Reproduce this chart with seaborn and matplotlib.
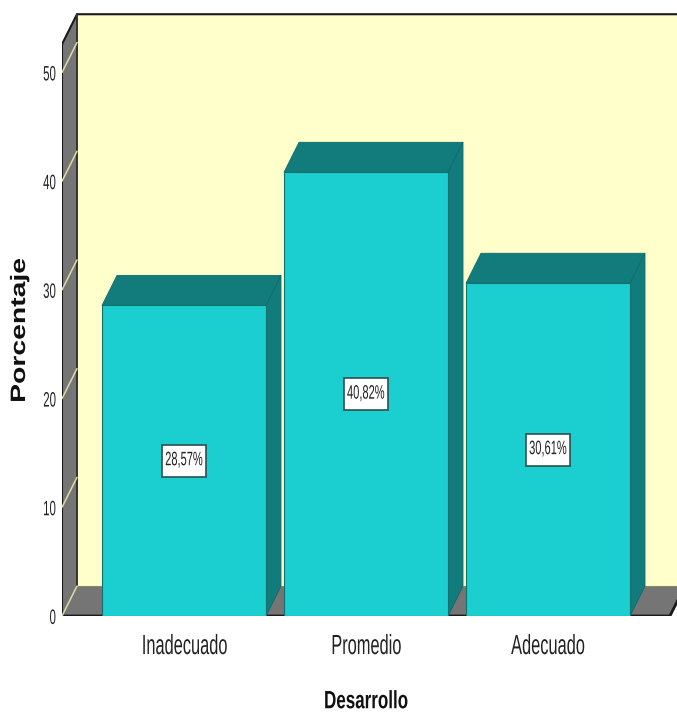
import matplotlib
matplotlib.use('Agg')
import matplotlib.pyplot as plt
from matplotlib.patches import Rectangle
from matplotlib.patheffects import AbstractPathEffect
from matplotlib.transforms import Affine2D
import pandas as pd
import seaborn as sns

categorias = ['Inadecuado', 'Promedio', 'Adecuado']
porcentajes = [28.57, 40.82, 30.61]
etiquetas = ['28,57%', '40,82%', '30,61%']
ticks_y = [0, 10, 20, 30, 40, 50]

TEAL = '#1BCECF'
TEAL_OSCURO = '#117C7B'
CREMA = '#FFFFCC'
GRIS = '#757575'
FUENTE = 'Liberation Sans'

# escala: 182 px por categoria, 10.87 px por unidad de porcentaje
PX_X = 182
PX_Y = 10.87
prof_x = 15 / PX_X
prof_y = 30 / PX_Y


# el original usa letra muy estrecha y alta: se estira el texto a lo ancho
class Estirar(AbstractPathEffect):
    def __init__(self, sx, ancla='centro', dx=0, dy=0):
        super().__init__((dx, dy))
        self.sx = sx
        self.ancla = ancla

    def draw_path(self, renderer, gc, tpath, affine, rgbFace=None):
        caja = tpath.get_extents()
        x0 = caja.x1 if self.ancla == 'derecha' else (caja.x0 + caja.x1) / 2
        t = Affine2D().translate(-x0, 0).scale(self.sx, 1).translate(x0, 0)
        renderer.draw_path(gc, tpath, t + self._offset_transform(renderer) + affine, rgbFace)


sns.set_style('white')

df = pd.DataFrame({'Desarrollo': categorias, 'Porcentaje': porcentajes})

fig = plt.figure(figsize=(6.77, 7.15), dpi=100)
ax = fig.add_axes([62 / 677, 99 / 715, 615 / 677, 616 / 715])
ax.patch.set_visible(False)

x_min = (62 - 184) / PX_X
x_max = (677 - 184) / PX_X
y_max = 616 / PX_Y
y_techo = 52.6
x_suelo = 2.67

# pared del fondo, pared izquierda y suelo
ax.fill([x_min + prof_x, x_max, x_max, x_min + prof_x],
        [prof_y, prof_y, y_techo + prof_y, y_techo + prof_y],
        color=CREMA, lw=0, zorder=0)
ax.fill([x_min, x_min + prof_x, x_min + prof_x, x_min],
        [0, prof_y, y_techo + prof_y, y_techo],
        color=GRIS, lw=0, zorder=0.5)
ax.fill([x_min, x_min + prof_x, x_suelo + prof_x, x_suelo],
        [0, prof_y, prof_y, 0],
        color=GRIS, lw=0, zorder=0.5)

ax.plot([x_min, x_min, x_min + prof_x, x_max],
        [0, y_techo, y_techo + prof_y, y_techo + prof_y],
        color='#1a1a1a', lw=1.5, zorder=1, solid_joinstyle='miter')
ax.plot([x_min + prof_x, x_min + prof_x], [prof_y, y_techo + prof_y],
        color='#333333', lw=1.4, zorder=1)
ax.plot([x_min + prof_x, x_max], [prof_y, prof_y], color='#8a8a60', lw=0.8, zorder=1)
ax.plot([x_min, x_suelo, x_suelo + prof_x], [0, 0, prof_y], color='#1a1a1a', lw=2, zorder=1)

for t in ticks_y:
    ax.plot([x_min, x_min + prof_x], [t, t + prof_y], color='#DCDCA8', lw=1.1, zorder=1.2)

sns.barplot(data=df, x='Desarrollo', y='Porcentaje', color=TEAL, saturation=1,
            width=164 / PX_X, edgecolor='#14706f', linewidth=0.8, zorder=3, ax=ax)

# caras superior y lateral de cada barra
for i, valor in enumerate(porcentajes):
    izq = i - 82 / PX_X
    der = i + 82 / PX_X
    ax.fill([izq, der, der + prof_x, izq + prof_x],
            [valor, valor, valor + prof_y, valor + prof_y],
            facecolor=TEAL_OSCURO, edgecolor='#0f6a6a', lw=0.6, zorder=2)
    ax.fill([der, der + prof_x, der + prof_x, der],
            [0, prof_y, valor + prof_y, valor],
            facecolor=TEAL_OSCURO, edgecolor='#0f6a6a', lw=0.6, zorder=2)
    ax.add_patch(Rectangle((i - 22 / PX_X, valor / 2 - 16 / PX_Y), 44 / PX_X, 32 / PX_Y,
                           facecolor='white', edgecolor='#2f4f4f', lw=1.2, zorder=4))
    ax.text(i, valor / 2, etiquetas[i], ha='center', va='center', fontsize=14,
            family=FUENTE, color='#222222', zorder=5, path_effects=[Estirar(0.57)])

ax.set_xlim(x_min, x_max)
ax.set_ylim(0, y_max)
ax.set_yticks(ticks_y)
ax.set_yticklabels([str(t) for t in ticks_y], family=FUENTE, fontsize=15, color='#222222')
for lab in ax.get_yticklabels():
    lab.set_path_effects([Estirar(0.55, 'derecha', dy=-1.5)])
ax.tick_params(axis='y', length=0, pad=4)
ax.tick_params(axis='x', length=0, pad=13)
for lab in ax.get_xticklabels():
    lab.set_family(FUENTE)
    lab.set_fontsize(20)
    lab.set_color('#222222')
    lab.set_path_effects([Estirar(0.59)])
sns.despine(ax=ax, left=True, bottom=True)

ax.set_xlabel('Desarrollo', family=FUENTE, fontsize=18, fontweight='bold', labelpad=21,
              color='#111111', path_effects=[Estirar(0.68)])
ax.xaxis.label.set_x((366 - 62) / 615)
ax.set_ylabel('Porcentaje', family=FUENTE, fontsize=15, fontweight='bold', color='#111111',
              path_effects=[Estirar(1.36)])
ax.yaxis.set_label_coords(-33 / 615, (616 - 330) / 616)

fig.savefig('out.png', dpi=100)
